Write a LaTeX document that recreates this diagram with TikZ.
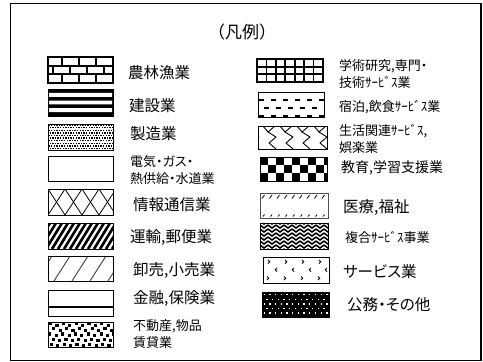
\documentclass[tikz,border=0pt]{standalone}
\usepackage{fontspec}
\setmainfont{Noto Sans CJK JP}
\newfontfamily\pjp{Noto Sans CJK JP}[RawFeature=+palt]
\begin{document}
\begin{tikzpicture}[x=1pt,y=-1pt,
  big/.style={anchor=west, inner sep=0pt, font=\pjp\fontsize{15.5}{18}\selectfont},
  small/.style={anchor=west, inner sep=0pt, align=left, font=\pjp\fontsize{13}{17}\selectfont},
  titlefont/.style={inner sep=0pt, font=\fontsize{17}{20}\selectfont},
  thinbox/.style={draw=black, line width=0.9pt},
  thickbox/.style={draw=black, line width=2pt}]
\useasboundingbox (0,0) rectangle (483,362);
\fill[white] (0,0) rectangle (483,362);
% outer frame
\draw[line width=1.4pt] (10.5,3.5) rectangle (481,360.5);
\node[titlefont] (title) at (242,32) {（凡例）};

% ---------- left column ----------
% L1 bricks
\begin{scope}[shift={(48,57)}]
  \clip (0,0) rectangle (65,26);
  \draw[line width=1.8pt] (0,8.7) -- (65,8.7) (0,17.3) -- (65,17.3);
  \foreach \x in {14,31,48} \draw[line width=1.8pt] (\x,0) -- (\x,8.7) (\x,17.3) -- (\x,26);
  \foreach \x in {5,22,39,56} \draw[line width=1.8pt] (\x,8.7) -- (\x,17.3);
\end{scope}
\draw[thickbox] (48,57) rectangle (113,83);
\node[big] (t1) at (128,73) {農林漁業};

% L2 stripes
\begin{scope}[shift={(48,89)}]
  \fill (0,0) rectangle (65,27);
  \fill[white] (1,3.9) rectangle (64,7.8) (1,11.6) rectangle (64,15.4) (1,19.2) rectangle (64,23.1);
\end{scope}
\draw[thinbox] (48,89) rectangle (113,116);
\node[big] (t2) at (129,106) {建設業};

% L3 dots
\begin{scope}[shift={(48,124)}]
  \clip (0,0) rectangle (65,26);
  \foreach \j in {0,...,9} {
    \pgfmathsetmacro\off{mod(\j,2)*1.3}
    \foreach \i in {0,...,25} \fill (\i*2.6+\off+0.3,\j*2.6+0.3) rectangle +(1.45,1.45);
  }
\end{scope}
\draw[thinbox] (48,124) rectangle (113,150);
\node[big] (t3) at (130,134) {製造業};

% L4 empty
\draw[thinbox] (48,156) rectangle (113,181);
\node[small] (t4) at (130,170) {電気・ガス・\\熱供給・水道業};

% L5 lattice
\begin{scope}[shift={(48,189)}]
  \clip (0,0) rectangle (65,26);
  \foreach \k in {-1,...,4} {
    \draw[line width=0.8pt] (\k*17,0) -- (\k*17+17,26);
    \draw[line width=0.8pt] (\k*17+17,0) -- (\k*17,26);
  }
\end{scope}
\draw[thinbox] (48,189) rectangle (113,215);
\node[big] (t5) at (133,205) {情報通信業};

% L6 thick diagonals
\begin{scope}[shift={(48,223)}]
  \clip (0,0) rectangle (65,26);
  \foreach \x in {-20,-14,...,70} \draw[line width=2.6pt] (\x,26) -- (\x+16,0);
\end{scope}
\draw[thinbox] (48,223) rectangle (113,249);
\node[big] (t6) at (130,237) {運輸,郵便業};

% L7 sparse diagonals
\begin{scope}[shift={(48,256)}]
  \clip (0,0) rectangle (65,25);
  \foreach \x in {-12,6,...,70} \draw[line width=0.9pt, black!75] (\x,25) -- (\x+16,0);
\end{scope}
\draw[thinbox] (48,256) rectangle (113,281);
\node[big] (t7) at (133,270) {卸売,小売業};

% L8 single line
\draw[thinbox] (48,290) rectangle (113,316);
\draw[line width=1.8pt] (48,307) -- (113,307);
\node[big] (t8) at (133,298) {金融,保険業};

% L9 confetti
\begin{scope}[shift={(48,322)}]
  \clip (0,0) rectangle (65,25);
  \foreach \j/\o in {0/1,1/4.2,2/0.3,3/3.6,4/1.8} {
    \foreach \i in {0,...,10} {
      \pgfmathsetmacro\dy{mod(\i,2)*1.6}
      \fill (\i*6.4+\o,\j*5.2+\dy) rectangle +(3.1,3.1);
    }
  }
\end{scope}
\draw[thinbox] (48,322) rectangle (113,347);
\node[small] (t9) at (133,334) {不動産,物品\\賃貸業};

% ---------- right column ----------
% R1 grid
\begin{scope}[shift={(257,59)}]
  \foreach \i in {1,...,6} \draw[line width=1.8pt] (\i*66/7,0) -- (\i*66/7,23);
  \draw[line width=1.8pt] (0,7.7) -- (66,7.7) (0,15.3) -- (66,15.3);
\end{scope}
\draw[line width=2.5pt] (257,59) rectangle (323,82);
\node[small] (r1) at (339,74) {学術研究,専門・\\技術ｻｰﾋﾞｽ業};

% R2 dashes
\begin{scope}[shift={(258,92)}]
  \clip (0,0) rectangle (66,25);
  \draw[line width=1.6pt, dash pattern=on 5pt off 7pt] (1,8) -- (66,8);
  \draw[line width=1.6pt, dash pattern=on 5pt off 7pt, dash phase=6pt] (0,16) -- (66,16);
  \draw[line width=1.8pt, dash pattern=on 5pt off 7pt] (1,24.2) -- (66,24.2);
\end{scope}
\draw[thinbox] (258,92) rectangle (324,117);
\node[small] (r2) at (339,107) {宿泊,飲食ｻｰﾋﾞｽ業};

% R3 zigzag
\begin{scope}[shift={(258,126)}]
  \clip (0,0) rectangle (69,23);
  \foreach \a in {0,17,...,85} {
    \draw[line width=0.9pt, line join=round] (\a,0) -- (\a-7,6) -- (\a+1,11) -- (\a-6,17) -- (\a+1,23);
    \draw[line width=0.9pt] (\a-7,6) -- (\a-12,0);
  }
\end{scope}
\draw[thinbox] (258,126) rectangle (327,149);
\node[small] (r3) at (339,139) {生活関連ｻｰﾋﾞｽ,\\娯楽業};

% R4 checkerboard
\begin{scope}[shift={(260,157)}]
  \clip (0,0) rectangle (67,24);
  \foreach \i in {0,...,8} \foreach \j in {0,1,2} {
    \pgfmathtruncatemacro\v{mod(\i+\j,2)}
    \ifnum\v=0 \fill (\i*8,\j*8) rectangle +(8,8); \fi
  }
\end{scope}
\draw[thinbox] (260,157) rectangle (327,181);
\node[small, font=\pjp\fontsize{14}{17}\selectfont] (r4) at (341,168) {教育,学習支援業};

% R5 small slashes
\begin{scope}[shift={(260,193)}]
  \clip (0,0) rectangle (68,25);
  \foreach \x in {2,9.5,...,68} {
    \draw[line width=0.8pt] (\x,5.5) -- (\x+2.5,2);
    \draw[line width=0.8pt] (\x+1,23.5) -- (\x+2.5,21.5);
  }
\end{scope}
\draw[line width=0.9pt, black!70] (260,193) rectangle (328,218);
\node[big] (r5) at (343,207) {医療,福祉};

% R6 dense weave
\begin{scope}[shift={(260,223)}]
  \clip (0,0) rectangle (68,26);
  \foreach \yy in {-2,2,...,28} \foreach \xx in {-8,0,...,72}
    \draw[line width=1.6pt] (\xx,\yy) -- (\xx+4,\yy+3) -- (\xx+8,\yy);
\end{scope}
\draw[thinbox] (260,223) rectangle (328,249);
\node[small] (r6) at (345,237) {複合ｻｰﾋﾞｽ事業};

% R7 chevrons
\begin{scope}[shift={(263,257)}]
  \foreach \x in {5,22,39,56} {
    \draw[line width=0.9pt] (\x,3) -- (\x+1.8,4.8) -- (\x,6.6);
    \draw[line width=0.9pt] (\x-1,19.5) -- (\x+0.8,21.3) -- (\x-1,23.1);
  }
  \foreach \x in {14,31,48,64} \draw[line width=0.9pt] (\x,11) -- (\x-1.8,12.8) -- (\x,14.6);
\end{scope}
\draw[thinbox] (263,257) rectangle (329,283);
\node[big] (r7) at (343,272) {サービス業};

% R8 black with white dots
\begin{scope}[shift={(262,292)}]
  \fill (0,0) rectangle (67,25);
  \foreach \j in {0,...,4} {
    \pgfmathsetmacro\off{mod(\j,2)*2.85}
    \foreach \i in {0,...,11} \fill[white] (\i*5.7+\off+1.5,\j*4.6+2) rectangle +(1.3,1.3);
  }
\end{scope}
\draw[thinbox] (262,292) rectangle (329,317);
\node[big] (r8) at (347,305) {公務・その他};
\end{tikzpicture}
\end{document}
